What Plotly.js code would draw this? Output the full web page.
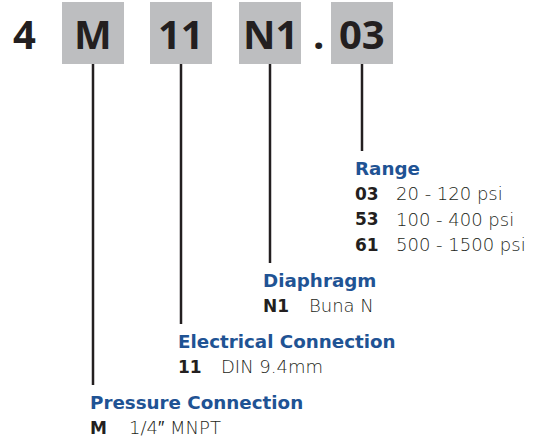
<!DOCTYPE html>
<html>
<head>
<meta charset="utf-8">
<script src="https://cdn.plot.ly/plotly-3.0.1.min.js"></script>
<style>html,body{margin:0;padding:0;background:#fff}#chart{width:547px;height:441px}</style>
</head>
<body>
<div id="chart"></div>
<script>
// ---- data ----
const prefix = '4';
const codeParts = ['M', '11', 'N1', '03'];
const separator = '.';
const sectionTitles = ['Pressure Connection', 'Electrical Connection', 'Diaphragm', 'Range'];
const optionCodes = [['M'], ['11'], ['N1'], ['03', '53', '61']];
const optionDescs = [['1/4″ MNPT'], ['DIN 9.4mm'], ['Buna N'], ['20 - 120 psi', '100 - 400 psi', '500 - 1500 psi']];

// ---- layout constants ----
const FONT = '"DejaVu Sans", sans-serif';
const BIGFONT = '"Open Sans", sans-serif';
const DARK = '#231f20';
const BLUE = '#1f5394';
const GRAY = '#bdbec0';
const boxCenters = [93, 181, 270, 362];
const boxHalf = 31;
const boxTop = 2, boxBottom = 64;
const titleY = [402, 341, 280, 168];
const textLeft = [88, 176, 261, 353];
const descOffset = [39, 43, 46, 41];
const rowGap = 25.5;

const shapes = [];
const annotations = [];

annotations.push({x: 24, y: 33, xref: 'x', yref: 'y', text: '<b>' + prefix + '</b>', showarrow: false,
  font: {family: BIGFONT, size: 40, color: DARK}, xanchor: 'center', yanchor: 'middle'});
annotations.push({x: 318, y: 33, xref: 'x', yref: 'y', text: '<b>' + separator + '</b>', showarrow: false,
  font: {family: BIGFONT, size: 40, color: DARK}, xanchor: 'center', yanchor: 'middle'});

codeParts.forEach((c, i) => {
  const cx = boxCenters[i];
  shapes.push({type: 'rect', xref: 'x', yref: 'y', x0: cx - boxHalf, x1: cx + boxHalf, y0: boxTop, y1: boxBottom,
    fillcolor: GRAY, line: {width: 0}, layer: 'below'});
  annotations.push({x: cx, y: 33, xref: 'x', yref: 'y', text: '<b>' + c + '</b>', showarrow: false,
    font: {family: BIGFONT, size: 40, color: DARK}, xanchor: 'center', yanchor: 'middle'});
  // connector line
  shapes.push({type: 'line', xref: 'x', yref: 'y', x0: cx, x1: cx, y0: boxBottom, y1: titleY[i] - 17,
    line: {color: DARK, width: 2.5}});
  annotations.push({x: textLeft[i], y: titleY[i], xref: 'x', yref: 'y', text: '<b>' + sectionTitles[i] + '</b>',
    showarrow: false, font: {family: FONT, size: 18.3, color: BLUE}, xanchor: 'left', yanchor: 'middle'});
  optionCodes[i].forEach((code, j) => {
    const y = titleY[i] + rowGap * (j + 1);
    annotations.push({x: textLeft[i], y: y, xref: 'x', yref: 'y', text: '<b>' + code + '</b>', showarrow: false,
      font: {family: FONT, size: 17, color: DARK}, xanchor: 'left', yanchor: 'middle'});
    annotations.push({x: textLeft[i] + descOffset[i], y: y, xref: 'x', yref: 'y', text: optionDescs[i][j], showarrow: false,
      font: {family: FONT, size: 18, weight: 300, color: DARK}, xanchor: 'left', yanchor: 'middle'});
  });
});

const layout = {
  width: 547, height: 441,
  margin: {l: 0, r: 0, t: 0, b: 0},
  paper_bgcolor: '#ffffff', plot_bgcolor: '#ffffff',
  xaxis: {range: [0, 547], visible: false, fixedrange: true},
  yaxis: {range: [441, 0], visible: false, fixedrange: true},
  showlegend: false,
  shapes: shapes,
  annotations: annotations
};

Plotly.newPlot('chart', [], layout, {staticPlot: true, displayModeBar: false});
</script>
</body>
</html>
